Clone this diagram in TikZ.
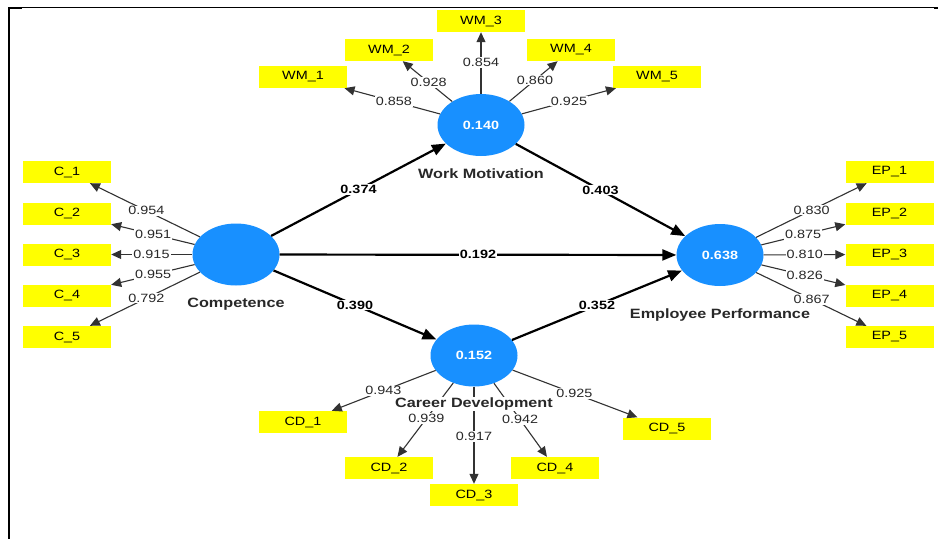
\documentclass[tikz,border=0pt]{standalone}
\usepackage{fontspec}
\setmainfont[FakeStretch=1.2]{Liberation Sans}
\usetikzlibrary{shapes.geometric,arrows.meta}
\definecolor{plsblue}{RGB}{24,144,255}
\definecolor{plsyellow}{RGB}{255,255,0}
\definecolor{indgray}{RGB}{50,50,50}
\definecolor{txtgray}{RGB}{40,40,40}
\begin{document}
\begin{tikzpicture}[x=1pt,y=-1pt,
  lv/.style={ellipse, fill=plsblue, minimum width=87pt, minimum height=62pt, inner sep=0pt, text=white, font=\bfseries\fontsize{12}{14}\selectfont},
  mv/.style={rectangle, fill=plsyellow, minimum width=88pt, minimum height=22pt, inner sep=0pt, font=\fontsize{12}{14}\selectfont},
  ind/.style={draw=indgray, line width=1.1pt, -{Triangle[length=10pt,width=9pt]}},
  pth/.style={draw=black, line width=2.2pt, -{Triangle[length=14pt,width=11pt]}},
  ld/.style={fill=white, inner sep=1pt, text=txtgray, font=\fontsize{12}{14}\selectfont},
  pc/.style={fill=white, inner sep=1pt, text=black, font=\bfseries\fontsize{12}{14}\selectfont},
  lvname/.style={fill=white, inner sep=1pt, text=txtgray, font=\bfseries\fontsize{13.5}{16}\selectfont}]
\useasboundingbox (0,0) rectangle (938,539);
\fill[white] (0,0) rectangle (938,539);
% frame
\draw[line width=1.3pt] (8,7.5) -- (938,7.5);
\draw[line width=2pt] (9,7) -- (9,539);
\fill (8,7) rectangle (22,9);
\fill (934,7) rectangle (938,9);
% latent variables
\node[lv] (WM) at (481,125) {0.140};
\node[lv] (C) at (236,254.5) {};
\node[lv] (EP) at (720,255) {0.638};
\node[lv] (CD) at (474,355.5) {0.152};
% indicators
\foreach \n/\x/\y/\t in {WM1/303/77/WM\_1, WM2/389/50/WM\_2, WM3/481/21/WM\_3, WM4/571/50/WM\_4, WM5/657/77/WM\_5,
  C1/67/172/C\_1, C2/67/213.5/C\_2, C3/67/254.5/C\_3, C4/67/295.5/C\_4, C5/67/337/C\_5,
  EP1/889.5/172/EP\_1, EP2/889.5/213.5/EP\_2, EP3/889.5/254.5/EP\_3, EP4/889.5/295.5/EP\_4, EP5/889.5/337/EP\_5,
  CD1/303/422/CD\_1, CD2/389/468/CD\_2, CD3/474/495/CD\_3, CD4/555/468/CD\_4, CD5/667/428.5/CD\_5}
  {\node[mv] (\n) at (\x,\y) {\t};}
% outer loadings
\foreach \a/\b/\p/\v in {WM/WM1/0.49/0.858, WM/WM2/0.57/0.928, WM/WM3/0.6/0.854, WM/WM4/0.6/0.860, WM/WM5/0.5/0.925,
  C/C1/0.53/0.954, C/C2/0.49/0.951, C/C3/0.5/0.915, C/C4/0.49/0.955, C/C5/0.53/0.792,
  EP/EP1/0.54/0.830, EP/EP2/0.49/0.875, EP/EP3/0.5/0.810, EP/EP4/0.5/0.826, EP/EP5/0.54/0.867,
  CD/CD1/0.53/0.943, CD/CD2/0.56/0.939, CD/CD3/0.58/0.917, CD/CD4/0.57/0.942, CD/CD5/0.52/0.925}
  {\draw[ind] (\a) -- (\b);
   \path (\a.center) -- node[ld,pos=\p] (l\b) {\v} (\b.center);}
% path coefficients
\foreach \a/\b/\v in {C/WM/0.374, WM/EP/0.403, C/EP/0.192, C/CD/0.390, CD/EP/0.352}
  {\draw[pth] (\a) -- (\b);
   \path (\a.center) -- node[pc,pos=0.5] (p\a\b) {\v} (\b.center);}
% construct names (on top of the connectors)
\node[lvname] (nWM) at (481,174) {Work Motivation};
\node[lvname] (nC) at (236,304) {Competence};
\node[lvname] (nEP) at (720,315) {Employee Performance};
\node[lvname] (nCD) at (474,404) {Career Development};
\end{tikzpicture}
\end{document}
